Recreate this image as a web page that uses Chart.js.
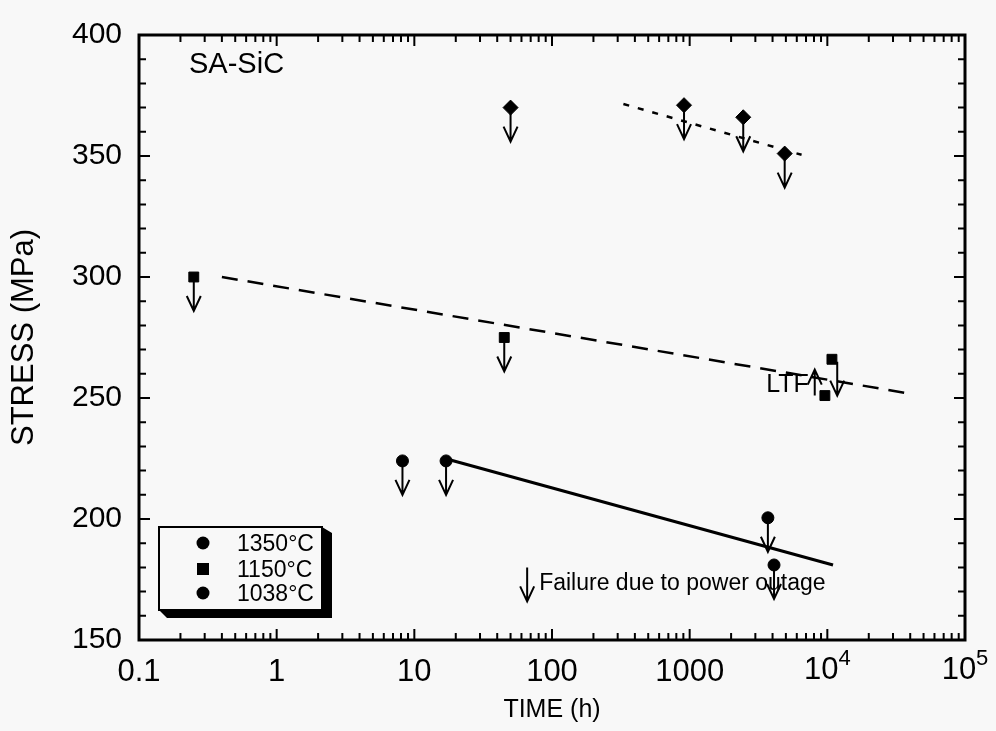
<!DOCTYPE html>
<html lang="en">
<head>
<meta charset="UTF-8">
<title>SA-SiC stress rupture</title>
<script src="https://cdn.jsdelivr.net/npm/chart.js@4.4.0/dist/chart.umd.min.js"></script>
<style>
  html, body { margin: 0; padding: 0; background: #f8f8f8; }
  #wrap { width: 996px; height: 731px; }
</style>
</head>
<body>
<div id="wrap"><canvas id="myChart" width="996" height="731"></canvas></div>
<script>
// axis ticks (powers of ten above 1000 are drawn as 10 with a raised exponent)
const xTicks = [0.1, 1, 10, 100, 1000, 1e4, 1e5];
const xTickLabels = ["0.1", "1", "10", "100", "1000", "", ""];
const xPowTicks = [1e4, 1e5];
const xPowExp = ["4", "5"];
const yTicks = [150, 200, 250, 300, 350, 400];

// 1350°C
const time1350 = [50, 910, 2450, 4900];
const stress1350 = [370, 371, 366, 351];
const fitTime1350 = [330, 6500];
const fitStress1350 = [371.5, 350.5];

// 1150°C
const time1150 = [0.25, 45, 9600, 10800];
const stress1150 = [300, 275, 251, 266];
const fitTime1150 = [0.4, 38000];
const fitStress1150 = [300, 252];

// 1038°C
const time1038 = [8.2, 17, 3700, 4100];
const stress1038 = [224, 224, 200.5, 181];
const fitTime1038 = [18, 11000];
const fitStress1038 = [224.5, 181];

// runout arrows: down from these points, LTF arrow up
const downTime = [50, 910, 2450, 4900, 0.25, 45, 11800, 8.2, 17, 3700, 4100, 66];
const downStress = [370, 371, 366, 351, 300, 275, 265, 224, 224, 200.5, 181, 180];
const upTime = [8100];
const upStress = [251];

const legendLabels = ["1350°C", "1150°C", "1038°C"];
const legendStyles = ["circle", "rect", "circle"];

const FONT = "'Liberation Sans', Arial, sans-serif";

function xy(ts, ss) {
    return ts.map((t, i) => ({ x: t, y: ss[i] }));
}

function arrow(ctx, x, y0, len) {
    // len > 0 points down, len < 0 points up
    const y1 = y0 + len;
    const d = len > 0 ? 1 : -1;
    ctx.beginPath();
    ctx.moveTo(x, y0);
    ctx.lineTo(x, y1);
    ctx.moveTo(x - 7, y1 - d * 15);
    ctx.lineTo(x, y1);
    ctx.lineTo(x + 7, y1 - d * 15);
    ctx.stroke();
}

const bg = {
    id: "bg",
    beforeDraw(chart) {
        const ctx = chart.ctx;
        ctx.save();
        ctx.fillStyle = "#f8f8f8";
        ctx.fillRect(0, 0, chart.width, chart.height);
        ctx.restore();
    }
};

const extras = {
    id: "extras",
    afterDatasetsDraw(chart) {
        const { ctx, chartArea: a, scales: { x, y } } = chart;
        ctx.save();
        ctx.strokeStyle = "#000";
        ctx.fillStyle = "#000";

        // frame
        ctx.lineWidth = 3;
        ctx.strokeRect(a.left, a.top, a.right - a.left, a.bottom - a.top);

        // inside ticks, all four sides
        ctx.lineWidth = 2;
        ctx.beginPath();
        for (let e = -1; e <= 4; e++) {
            for (let m = 1; m <= 9; m++) {
                const px = x.getPixelForValue(m * Math.pow(10, e));
                const len = m === 1 ? 11 : 7;
                ctx.moveTo(px, a.bottom); ctx.lineTo(px, a.bottom - len);
                ctx.moveTo(px, a.top); ctx.lineTo(px, a.top + len);
            }
        }
        for (let v = 150; v <= 400; v += 10) {
            const py = y.getPixelForValue(v);
            const len = v % 50 === 0 ? 11 : 7;
            ctx.moveTo(a.left, py); ctx.lineTo(a.left + len, py);
            ctx.moveTo(a.right, py); ctx.lineTo(a.right - len, py);
        }
        ctx.stroke();

        // 10^4, 10^5 tick labels
        xPowTicks.forEach((v, i) => {
            const px = x.getPixelForValue(v);
            ctx.font = "31px " + FONT;
            const w1 = ctx.measureText("10").width;
            ctx.font = "22px " + FONT;
            const w2 = ctx.measureText(xPowExp[i]).width;
            const left = px - (w1 + w2) / 2;
            ctx.font = "31px " + FONT;
            ctx.fillText("10", left, 679);
            ctx.font = "22px " + FONT;
            ctx.fillText(xPowExp[i], left + w1, 665);
        });

        // arrows
        ctx.lineWidth = 2;
        downTime.forEach((t, i) => {
            arrow(ctx, x.getPixelForValue(t), y.getPixelForValue(downStress[i]), 34);
        });
        upTime.forEach((t, i) => {
            arrow(ctx, x.getPixelForValue(t), y.getPixelForValue(upStress[i]), -26);
        });

        // labels
        ctx.font = "29px " + FONT;
        ctx.textBaseline = "alphabetic";
        ctx.fillText("SA-SiC", 189, 73);
        ctx.font = "23px " + FONT;
        const fx = x.getPixelForValue(66);
        ctx.fillText("Failure due to power outage", fx + 12, 590);
        ctx.font = "25px " + FONT;
        ctx.textAlign = "right";
        ctx.fillText("LTF", x.getPixelForValue(8100) - 6, 392);
        ctx.textAlign = "left";

        // legend box with shadow
        const L = 159, T = 527, R = 322, B = 610;
        ctx.beginPath();
        ctx.moveTo(L, B); ctx.lineTo(L + 8, B + 8); ctx.lineTo(R + 10, B + 8);
        ctx.lineTo(R + 10, T + 6); ctx.lineTo(R, T); ctx.lineTo(R, B);
        ctx.closePath();
        ctx.fill();
        ctx.fillStyle = "#f8f8f8";
        ctx.fillRect(L, T, R - L, B - T);
        ctx.lineWidth = 2;
        ctx.strokeRect(L, T, R - L, B - T);
        ctx.fillStyle = "#000";
        ctx.font = "23px " + FONT;
        const rows = [543, 569, 593];
        legendLabels.forEach((lab, i) => {
            const cy = rows[i];
            if (legendStyles[i] === "rect") {
                ctx.fillRect(197, cy - 6, 12, 12);
            } else {
                ctx.beginPath();
                ctx.arc(203, cy, 6.5, 0, Math.PI * 2);
                ctx.fill();
            }
            ctx.fillText(lab, 237, cy + 8);
        });
        ctx.restore();
    }
};

new Chart("myChart", {
    type: "scatter",
    data: {
        datasets: [
            {
                type: "line", data: xy(fitTime1350, fitStress1350),
                borderColor: "#000", borderWidth: 2.5, borderDash: [6, 9],
                pointRadius: 0, fill: false
            },
            {
                type: "line", data: xy(fitTime1150, fitStress1150),
                borderColor: "#000", borderWidth: 2.5, borderDash: [16, 10],
                pointRadius: 0, fill: false
            },
            {
                type: "line", data: xy(fitTime1038, fitStress1038),
                borderColor: "#000", borderWidth: 3,
                pointRadius: 0, fill: false
            },
            {
                label: "1350°C", data: xy(time1350, stress1350),
                pointStyle: "rectRot", pointRadius: 7.5,
                backgroundColor: "#000", borderColor: "#000"
            },
            {
                label: "1150°C", data: xy(time1150, stress1150),
                pointStyle: "rect", pointRadius: 7,
                backgroundColor: "#000", borderColor: "#000"
            },
            {
                label: "1038°C", data: xy(time1038, stress1038),
                pointStyle: "circle", pointRadius: 6,
                backgroundColor: "#000", borderColor: "#000"
            }
        ]
    },
    options: {
        responsive: false,
        animation: false,
        layout: { padding: { top: 31, right: 31, left: 0, bottom: 0 } },
        plugins: { legend: { display: false }, tooltip: { enabled: false } },
        scales: {
            x: {
                type: "logarithmic", min: 0.1, max: 1e5,
                afterBuildTicks: s => { s.ticks = xTicks.map(v => ({ value: v })); },
                afterFit: s => { s.height = 91; },
                grid: { display: false, drawTicks: false, tickLength: 0 },
                border: { display: false },
                ticks: {
                    autoSkip: false, maxRotation: 0, padding: 14, color: "#000",
                    font: { family: FONT, size: 31 },
                    callback: (v) => xTickLabels[xTicks.indexOf(v)] ?? ""
                },
                title: {
                    display: true, text: "TIME (h)", color: "#000",
                    font: { family: FONT, size: 25 }, padding: { top: 0, bottom: 6 }
                }
            },
            y: {
                min: 150, max: 400,
                afterBuildTicks: s => { s.ticks = yTicks.map(v => ({ value: v })); },
                afterFit: s => { s.width = 139; },
                grid: { display: false, drawTicks: false, tickLength: 0 },
                border: { display: false },
                ticks: {
                    padding: 17, color: "#000",
                    font: { family: FONT, size: 30 }
                },
                title: {
                    display: true, text: "STRESS (MPa)", color: "#000",
                    font: { family: FONT, size: 31 }, padding: { top: 6, bottom: 0 }
                }
            }
        }
    },
    plugins: [bg, extras]
});
</script>
</body>
</html>
